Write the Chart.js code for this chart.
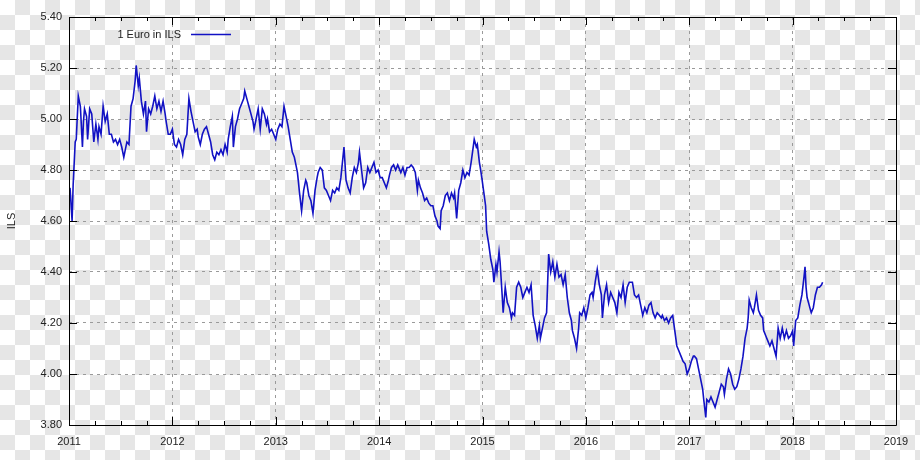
<!DOCTYPE html>
<html>
<head>
<meta charset="utf-8">
<script src="https://cdn.jsdelivr.net/npm/chart.js@4.4.1/dist/chart.umd.min.js"></script>
<style>
html, body { margin: 0; padding: 0; }
body {
  width: 920px; height: 460px; overflow: hidden;
  background: repeating-conic-gradient(#e6e6e6 0 25%, #ffffff 0 50%) 0 0 / 30px 30px;
}
canvas { display: block; }
</style>
</head>
<body>
<canvas id="fx" width="920" height="460"></canvas>
<script>
// EUR -> ILS, dates as decimal years
var dates = [
  2011.01,2011.03,2011.04,2011.06,2011.07,2011.09,2011.11,2011.13,2011.14,2011.15,2011.17,2011.18,2011.20,2011.22,2011.24,2011.26,2011.28,2011.29,2011.31,2011.33,2011.35,2011.37,2011.39,2011.41,2011.43,2011.45,2011.47,2011.49,2011.51,2011.53,2011.54,2011.56,2011.58,2011.60,2011.62,2011.64,2011.65,2011.67,2011.68,2011.70,2011.72,2011.74,2011.75,2011.77,2011.79,2011.81,2011.83,2011.85,2011.87,2011.89,2011.91,2011.93,2011.94,2011.96,2011.98,
  2012.00,2012.02,2012.04,2012.06,2012.08,2012.10,2012.12,2012.14,2012.16,2012.18,2012.20,2012.22,2012.24,2012.25,2012.27,2012.29,2012.31,2012.33,2012.35,2012.37,2012.39,2012.41,2012.43,2012.45,2012.47,2012.49,2012.51,2012.53,2012.54,2012.56,2012.58,2012.59,2012.61,2012.63,2012.65,2012.67,2012.69,2012.70,2012.72,2012.74,2012.76,2012.78,2012.79,2012.81,2012.83,2012.85,2012.87,2012.89,2012.91,2012.92,2012.94,2012.96,2012.98,
  2013.00,2013.02,2013.04,2013.06,2013.08,2013.10,2013.12,2013.14,2013.16,2013.18,2013.20,2013.21,2013.23,2013.25,2013.27,2013.29,2013.30,2013.32,2013.34,2013.36,2013.38,2013.40,2013.41,2013.43,2013.45,2013.47,2013.49,2013.51,2013.53,2013.55,2013.57,2013.59,2013.61,2013.63,2013.65,2013.66,2013.68,2013.70,2013.72,2013.74,2013.76,2013.78,2013.80,2013.81,2013.83,2013.85,2013.87,2013.89,2013.91,2013.93,2013.95,2013.97,2013.99,
  2014.01,2014.03,2014.05,2014.07,2014.09,2014.10,2014.12,2014.14,2014.16,2014.18,2014.21,2014.23,2014.25,2014.27,2014.29,2014.31,2014.33,2014.35,2014.37,2014.38,2014.40,2014.42,2014.44,2014.46,2014.48,2014.50,2014.52,2014.54,2014.56,2014.57,2014.59,2014.60,2014.62,2014.64,2014.66,2014.68,2014.70,2014.72,2014.73,2014.75,2014.77,2014.79,2014.81,2014.83,2014.85,2014.87,2014.89,2014.91,2014.92,2014.94,2014.95,2014.97,2014.99,
  2015.01,2015.03,2015.04,2015.06,2015.08,2015.10,2015.11,2015.13,2015.14,2015.16,2015.17,2015.19,2015.20,2015.22,2015.24,2015.26,2015.28,2015.29,2015.31,2015.33,2015.35,2015.37,2015.39,2015.41,2015.43,2015.45,2015.47,2015.49,2015.51,2015.53,2015.55,2015.56,2015.58,2015.60,2015.62,2015.64,2015.66,2015.68,2015.70,2015.72,2015.74,2015.76,2015.78,2015.80,2015.82,2015.84,2015.86,2015.87,2015.89,2015.91,2015.93,2015.94,2015.96,2015.98,
  2016.00,2016.02,2016.04,2016.06,2016.07,2016.09,2016.11,2016.13,2016.15,2016.16,2016.18,2016.20,2016.22,2016.24,2016.26,2016.28,2016.30,2016.32,2016.34,2016.36,2016.38,2016.40,2016.42,2016.44,2016.45,2016.47,2016.49,2016.51,2016.53,2016.55,2016.57,2016.59,2016.61,2016.63,2016.65,2016.67,2016.69,2016.71,2016.73,2016.74,2016.76,2016.78,2016.80,2016.82,2016.84,2016.86,2016.88,2016.90,2016.92,2016.94,2016.96,2016.98,
  2017.00,2017.02,2017.04,2017.05,2017.07,2017.09,2017.11,2017.13,2017.14,2017.16,2017.17,2017.19,2017.21,2017.23,2017.25,2017.27,2017.29,2017.31,2017.33,2017.34,2017.36,2017.38,2017.40,2017.42,2017.44,2017.46,2017.48,2017.50,2017.52,2017.54,2017.56,2017.57,2017.58,2017.60,2017.62,2017.63,2017.65,2017.67,2017.69,2017.71,2017.72,2017.74,2017.76,2017.78,2017.80,2017.82,2017.84,2017.86,2017.88,2017.90,2017.92,2017.94,2017.96,2017.98,
  2018.00,2018.01,2018.03,2018.05,2018.07,2018.09,2018.11,2018.12,2018.13,2018.14,2018.16,2018.18,2018.20,2018.22,2018.24,2018.26,2018.28,2018.29
];
var rates = [
  4.73,4.60,4.74,4.91,4.92,5.09,5.05,4.89,4.99,5.04,5.01,4.92,5.04,5.02,4.91,4.98,4.92,4.97,4.94,5.05,4.99,5.02,4.94,4.94,4.91,4.92,4.90,4.92,4.89,4.85,4.87,4.91,4.90,5.05,5.08,5.15,5.21,5.13,5.16,5.07,5.02,5.07,4.95,5.04,5.02,5.05,5.09,5.04,5.07,5.03,5.07,5.02,4.99,4.94,4.94,
  4.96,4.90,4.89,4.92,4.90,4.86,4.92,4.94,5.08,5.03,4.99,4.95,4.96,4.93,4.90,4.94,4.96,4.97,4.94,4.91,4.86,4.84,4.87,4.86,4.88,4.86,4.90,4.87,4.92,4.97,5.01,4.89,4.97,5.00,5.04,5.06,5.08,5.11,5.08,5.05,5.02,4.99,4.96,5.00,5.04,4.96,5.04,5.02,4.98,5.00,4.95,4.96,4.94,
  4.92,4.96,4.98,4.97,5.05,5.01,4.97,4.92,4.87,4.85,4.81,4.79,4.71,4.64,4.72,4.76,4.75,4.70,4.68,4.63,4.72,4.77,4.79,4.81,4.80,4.73,4.72,4.70,4.68,4.72,4.71,4.73,4.72,4.77,4.85,4.89,4.76,4.73,4.71,4.77,4.81,4.79,4.83,4.87,4.80,4.73,4.75,4.81,4.79,4.81,4.83,4.79,4.80,
  4.77,4.77,4.75,4.73,4.76,4.78,4.81,4.82,4.80,4.82,4.79,4.81,4.78,4.81,4.81,4.82,4.81,4.79,4.72,4.76,4.73,4.71,4.68,4.69,4.67,4.66,4.66,4.62,4.60,4.58,4.57,4.64,4.66,4.70,4.71,4.68,4.71,4.69,4.71,4.61,4.72,4.75,4.80,4.77,4.79,4.78,4.83,4.89,4.92,4.89,4.90,4.83,4.78,
  4.72,4.66,4.56,4.51,4.45,4.41,4.36,4.43,4.40,4.48,4.44,4.31,4.24,4.34,4.28,4.26,4.22,4.24,4.23,4.34,4.36,4.34,4.30,4.32,4.34,4.32,4.35,4.23,4.19,4.14,4.19,4.14,4.18,4.22,4.24,4.47,4.40,4.44,4.38,4.43,4.38,4.39,4.35,4.39,4.30,4.24,4.21,4.17,4.14,4.10,4.18,4.24,4.23,4.26,
  4.22,4.26,4.31,4.32,4.30,4.36,4.41,4.35,4.31,4.22,4.31,4.35,4.28,4.32,4.30,4.28,4.24,4.32,4.30,4.35,4.28,4.34,4.36,4.36,4.36,4.31,4.30,4.31,4.27,4.23,4.26,4.24,4.27,4.28,4.24,4.22,4.24,4.23,4.22,4.23,4.21,4.22,4.20,4.22,4.23,4.17,4.11,4.09,4.07,4.05,4.04,4.00,
  4.02,4.05,4.07,4.07,4.06,4.02,3.98,3.94,3.90,3.83,3.90,3.89,3.91,3.89,3.87,3.90,3.93,3.96,3.95,3.92,3.98,4.02,4.00,3.96,3.94,3.95,3.98,4.02,4.07,4.14,4.18,4.22,4.29,4.26,4.24,4.26,4.31,4.25,4.23,4.22,4.17,4.15,4.13,4.11,4.13,4.10,4.07,4.18,4.14,4.18,4.14,4.17,4.14,4.15,
  4.17,4.11,4.21,4.22,4.27,4.31,4.38,4.42,4.34,4.30,4.27,4.24,4.26,4.31,4.34,4.34,4.35,4.36
];
var yearTicks = [2011, 2012, 2013, 2014, 2015, 2016, 2017, 2018, 2019];
var rateTicks = [3.80, 4.00, 4.20, 4.40, 4.60, 4.80, 5.00, 5.20, 5.40];
var seriesName = '1 Euro in ILS';
var axisName = 'ILS';

var lineColor = '#1212c4';
var textColor = '#222222';
var labelFont = '11px "Liberation Sans", Arial, sans-serif';

var points = [];
for (var i = 0; i < Math.min(dates.length, rates.length); i++) {
  points.push({ x: dates[i], y: rates[i] });
}

// gnuplot style frame, inward ticks and legend
var gnuplotFrame = {
  id: 'gnuplotFrame',
  afterDatasetsDraw: function(chart) {
    var ctx = chart.ctx, a = chart.chartArea;
    var xs = chart.scales.x, ys = chart.scales.y;
    ctx.save();
    ctx.strokeStyle = '#000';
    ctx.lineWidth = 1;
    ctx.beginPath();
    ctx.rect(Math.round(a.left) + 0.5, Math.round(a.top) + 0.5,
             Math.round(a.right - a.left), Math.round(a.bottom - a.top));
    ctx.stroke();

    ctx.beginPath();
    for (var k = 0; k < yearTicks.length; k++) {
      var yr = yearTicks[k];
      var px = Math.round(xs.getPixelForValue(yr)) + 0.5;
      ctx.moveTo(px, a.bottom); ctx.lineTo(px, a.bottom - 8);
      ctx.moveTo(px, a.top); ctx.lineTo(px, a.top + 8);
      if (k < yearTicks.length - 1) {
        for (var q = 1; q < 4; q++) {
          var mx = Math.round(xs.getPixelForValue(yr + q / 4)) + 0.5;
          ctx.moveTo(mx, a.bottom); ctx.lineTo(mx, a.bottom - 4);
          ctx.moveTo(mx, a.top); ctx.lineTo(mx, a.top + 4);
        }
      }
    }
    for (var j = 0; j < rateTicks.length; j++) {
      var py = Math.round(ys.getPixelForValue(rateTicks[j])) + 0.5;
      ctx.moveTo(a.left, py); ctx.lineTo(a.left + 8, py);
      ctx.moveTo(a.right, py); ctx.lineTo(a.right - 8, py);
    }
    ctx.stroke();

    // key
    var ky = a.top + 17.5;
    ctx.fillStyle = textColor;
    ctx.font = labelFont;
    ctx.textAlign = 'right';
    ctx.textBaseline = 'middle';
    ctx.fillText(seriesName, a.left + 112, ky);
    ctx.strokeStyle = lineColor;
    ctx.lineWidth = 1.5;
    ctx.beginPath();
    ctx.moveTo(a.left + 122, ky);
    ctx.lineTo(a.left + 162, ky);
    ctx.stroke();
    ctx.restore();
  }
};

new Chart(document.getElementById('fx'), {
  type: 'line',
  data: {
    datasets: [{
      label: seriesName,
      data: points,
      borderColor: lineColor,
      borderWidth: 1.6,
      pointRadius: 0,
      tension: 0,
      fill: false
    }]
  },
  options: {
    responsive: false,
    animation: false,
    events: [],
    layout: { padding: { top: 17, right: 24, left: 0, bottom: 0 } },
    plugins: { legend: { display: false }, tooltip: { enabled: false } },
    scales: {
      x: {
        type: 'linear',
        min: 2011, max: 2019,
        afterBuildTicks: function(s) { s.ticks = yearTicks.map(function(v) { return { value: v }; }); },
        afterFit: function(s) { s.height = 35; },
        ticks: {
          color: textColor,
          font: { family: '"Liberation Sans", Arial, sans-serif', size: 11 },
          padding: 10,
          maxRotation: 0,
          callback: function(v) { return String(v); }
        },
        grid: { color: '#9a9a9a', lineWidth: 1, drawTicks: false },
        border: { display: false, dash: [3, 4] }
      },
      y: {
        min: 3.8, max: 5.4,
        afterBuildTicks: function(s) { s.ticks = rateTicks.map(function(v) { return { value: v }; }); },
        afterFit: function(s) { s.width = 69; },
        ticks: {
          color: textColor,
          font: { family: '"Liberation Sans", Arial, sans-serif', size: 11 },
          padding: 7,
          callback: function(v) { return Number(v).toFixed(2); }
        },
        title: {
          display: true,
          text: axisName,
          color: textColor,
          font: { family: '"Liberation Sans", Arial, sans-serif', size: 11 },
          padding: { top: 5, bottom: 0 }
        },
        grid: { color: '#9a9a9a', lineWidth: 1, drawTicks: false },
        border: { display: false, dash: [3, 4] }
      }
    }
  },
  plugins: [gnuplotFrame]
});
</script>
</body>
</html>
